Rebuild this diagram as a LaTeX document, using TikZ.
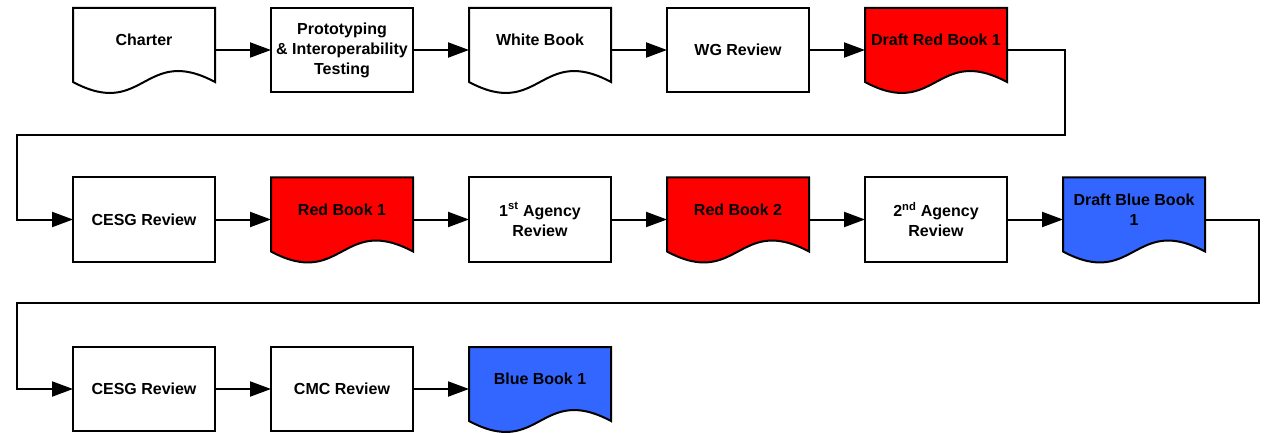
\documentclass[tikz,border=0pt]{standalone}
\usepackage{fontspec}
\setmainfont{Liberation Sans}
\usetikzlibrary{arrows.meta,calc}
\definecolor{bookred}{RGB}{255,0,0}
\definecolor{bookblue}{RGB}{51,102,255}
% document outline with a wavy bottom edge, drawn on an invisible frame node
\newcommand\drawdoc[2]{%
  \draw[line width=2pt, fill=#2, line join=miter]
    (#1.north west) -- (#1.north east) -- ([yshift=10pt]#1.south east)
    .. controls ([xshift=-71pt,yshift=48pt]#1.south east) and ([xshift=71pt,yshift=-28pt]#1.south west) ..
    ([yshift=10pt]#1.south west) -- cycle;}
\begin{document}
\begin{tikzpicture}[x=1pt,y=-1pt,
  every node/.style={font=\bfseries\fontsize{16}{20}\selectfont, text=black},
  procbox/.style={draw, line width=2pt, fill=white, minimum width=142pt, minimum height=84pt,
    inner sep=0pt, outer sep=0pt, align=center},
  docframe/.style={minimum width=142pt, minimum height=84pt, inner sep=0pt, outer sep=0pt},
  doctext/.style={align=center, inner sep=0pt},
  flow/.style={line width=2pt, -{Triangle[length=21pt,width=15pt]}}]
\useasboundingbox (0,0) rectangle (1264,433);

% row 1
\node[docframe] (charter) at (144,50) {};
\node[procbox] (proto) at (342,50) {Prototyping\\\& Interoperability\\Testing};
\node[docframe] (white) at (540,50) {};
\node[procbox] (wg) at (738,50) {WG Review};
\node[docframe] (drb) at (936,50) {};

% row 2
\node[procbox] (cesgA) at (144,219.5) {CESG Review};
\node[docframe] (rb1) at (342,219.5) {};
\node[procbox] (agency1) at (540,219.5) {1\textsuperscript{st} Agency\\Review};
\node[docframe] (rb2) at (738,219.5) {};
\node[procbox] (agency2) at (936,219.5) {2\textsuperscript{nd} Agency\\Review};
\node[docframe] (dbb) at (1134,219.5) {};

% row 3
\node[procbox] (cesgB) at (144,389) {CESG Review};
\node[procbox] (cmc) at (342,389) {CMC Review};
\node[docframe] (bb1) at (540,389) {};

% document shapes
\drawdoc{charter}{white}
\drawdoc{white}{white}
\drawdoc{drb}{bookred}
\drawdoc{rb1}{bookred}
\drawdoc{rb2}{bookred}
\drawdoc{dbb}{bookblue}
\drawdoc{bb1}{bookblue}

% document captions
\node[doctext] (charter-t) at ([yshift=10pt]charter.center) {Charter};
\node[doctext] (white-t) at ([yshift=10pt]white.center) {White Book};
\node[doctext] (drb-t) at ([yshift=10pt]drb.center) {Draft Red Book 1};
\node[doctext] (rb1-t) at ([yshift=10pt]rb1.center) {Red Book 1};
\node[doctext] (rb2-t) at ([yshift=10pt]rb2.center) {Red Book 2};
\node[doctext] (dbb-t) at ([yshift=10pt]dbb.center) {Draft Blue Book\\1};
\node[doctext] (bb1-t) at ([yshift=10pt]bb1.center) {Blue Book 1};

% wrap-around corners
\coordinate (wrapAr) at (1065,135);
\coordinate (wrapAl) at (17,135);
\coordinate (wrapBr) at (1259,303);
\coordinate (wrapBl) at (17,303);

% connectors
\draw[flow] (charter) -- (proto);
\draw[flow] (proto) -- (white);
\draw[flow] (white) -- (wg);
\draw[flow] (wg) -- (drb);
\draw[flow] (drb.east) -| (wrapAr) -- (wrapAl) |- (cesgA.west);
\draw[flow] (cesgA) -- (rb1);
\draw[flow] (rb1) -- (agency1);
\draw[flow] (agency1) -- (rb2);
\draw[flow] (rb2) -- (agency2);
\draw[flow] (agency2) -- (dbb);
\draw[flow] (dbb.east) -| (wrapBr) -- (wrapBl) |- (cesgB.west);
\draw[flow] (cesgB) -- (cmc);
\draw[flow] (cmc) -- (bb1);
\end{tikzpicture}
\end{document}
